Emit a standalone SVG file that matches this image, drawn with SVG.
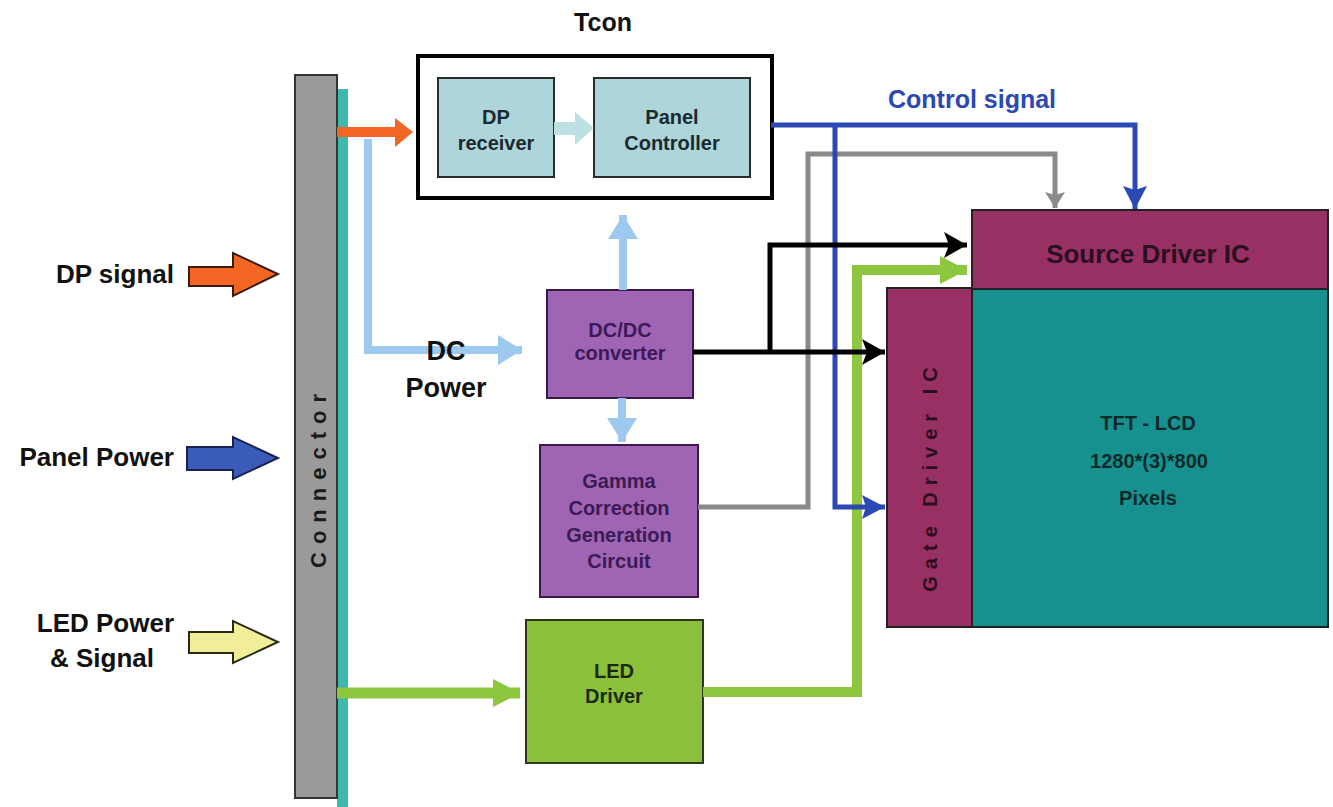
<svg xmlns="http://www.w3.org/2000/svg" width="1333" height="807" viewBox="0 0 1333 807">
<defs>
<style>
text{font-family:"Liberation Sans",Arial,sans-serif;font-weight:bold;}
.lbl{font-size:26px;fill:#111;}
.box{stroke:#2a2a2a;stroke-width:2;}
.tc{fill:#aed6da;}
.pu{fill:#a064b4;stroke:#3a1a4a;stroke-width:2;}
.pt{font-size:20px;fill:#3b1b55;text-anchor:middle;}
.it{font-size:20px;fill:#1a2a30;text-anchor:middle;}
.ln{fill:none;stroke-linejoin:miter;}
</style>
<marker id="ahBlack" markerUnits="userSpaceOnUse" markerWidth="26" markerHeight="28" refX="23" refY="13" orient="auto" viewBox="0 0 26 26">
<path d="M0,0 L23,13 L0,26 L5,13 Z" fill="#000"/>
</marker>
<marker id="ahBlue" markerUnits="userSpaceOnUse" markerWidth="26" markerHeight="26" refX="23" refY="12" orient="auto" viewBox="0 0 26 24">
<path d="M0,0 L23,12 L0,24 L4,12 Z" fill="#2b48b4"/>
</marker>
<marker id="ahGray" markerUnits="userSpaceOnUse" markerWidth="20" markerHeight="20" refX="16" refY="10" orient="auto" viewBox="0 0 20 20">
<path d="M0,0 L16,10 L0,20 L3,10 Z" fill="#8a8a8a"/>
</marker>
<marker id="ahGreen" markerUnits="userSpaceOnUse" markerWidth="28" markerHeight="30" refX="27" refY="14" orient="auto" viewBox="0 0 28 28">
<path d="M0,0 L27,14 L0,28 Z" fill="#8dc63f"/>
</marker>
<marker id="ahLB" markerUnits="userSpaceOnUse" markerWidth="26" markerHeight="32" refX="24" refY="15" orient="auto" viewBox="0 0 26 30">
<path d="M0,0 L24,15 L0,30 Z" fill="#9ec9ee"/>
</marker>
</defs>
<rect width="1333" height="807" fill="#fff"/>

<g id="inputs">
<polygon points="189,267 233,267 233,253 278,274 233,296 233,286 189,286" fill="#f26522" stroke="#3a1a0a" stroke-width="2"/>
<text class="lbl" x="174" y="283" text-anchor="end">DP signal</text>
<polygon points="187,447 233,447 233,437 278,458 233,479 233,470 187,470" fill="#3a5bb8" stroke="#1a2050" stroke-width="2"/>
<text class="lbl" x="174" y="466" text-anchor="end">Panel Power</text>
<polygon points="189,632 233,632 233,621 278,642 233,663 233,653 189,653" fill="#f0ee98" stroke="#2a2a10" stroke-width="2"/>
<text class="lbl" x="174" y="632" text-anchor="end">LED Power</text>
<text class="lbl" x="102" y="667" text-anchor="middle">&amp; Signal</text>
</g>

<g id="connector">
<rect x="337" y="89" width="11" height="718" fill="#3fb8b0"/>
<rect x="295" y="75" width="42" height="723" fill="#9a9a9a" stroke="#333" stroke-width="2"/>
<text transform="translate(326,477) rotate(-90)" font-size="22" fill="#1a1a1a" text-anchor="middle" letter-spacing="8">Connector</text>
</g>

<g id="tcon">
<text x="603" y="31" font-size="25" fill="#111" text-anchor="middle">Tcon</text>
<rect x="418" y="56" width="354" height="142" fill="#fff" stroke="#000" stroke-width="4"/>
</g>
<g id="dp-receiver">
<rect class="tc box" x="438" y="78" width="116" height="99"/>
<text class="it" x="496" y="124">DP</text>
<text class="it" x="496" y="150">receiver</text>
</g>
<g id="panel-controller">
<rect class="tc box" x="594" y="78" width="156" height="99"/>
<text class="it" x="672" y="124">Panel</text>
<text class="it" x="672" y="150">Controller</text>
</g>

<g id="dcdc">
<rect class="pu" x="547" y="290" width="146" height="108"/>
<text class="pt" x="620" y="337" font-size="19">DC/DC</text>
<text class="pt" x="620" y="360" font-size="19">converter</text>
</g>

<g id="gamma">
<rect class="pu" x="540" y="445" width="158" height="152"/>
<text class="pt" x="619" y="488">Gamma</text>
<text class="pt" x="619" y="515">Correction</text>
<text class="pt" x="619" y="542">Generation</text>
<text class="pt" x="619" y="568">Circuit</text>
</g>

<g id="led-driver">
<rect x="526" y="620" width="177" height="143" fill="#8cc03a" stroke="#2a3a1a" stroke-width="2"/>
<text x="614" y="678" font-size="20" fill="#1a2a10" text-anchor="middle">LED</text>
<text x="614" y="703" font-size="20" fill="#1a2a10" text-anchor="middle">Driver</text>
</g>

<g id="connectors">
<polygon points="554,122 575,122 575,112 594,128 575,145 575,135 554,135" fill="#bde0e2"/>
<polygon points="337,127 395,127 395,118 413,132 395,147 395,137 337,137" fill="#f26522"/>
<polyline class="ln" points="368,139 368,350 522,350" stroke="#9ec9ee" stroke-width="8" marker-end="url(#ahLB)"/>
<line x1="623" y1="290" x2="623" y2="215" stroke="#9ec9ee" stroke-width="8" marker-end="url(#ahLB)"/>
<line x1="622" y1="398" x2="622" y2="442" stroke="#9ec9ee" stroke-width="8" marker-end="url(#ahLB)"/>
<line x1="337" y1="693" x2="520" y2="693" stroke="#8dc63f" stroke-width="11" marker-end="url(#ahGreen)"/>
<polyline class="ln" points="703,692 857,692 857,270 967,270" stroke="#8dc63f" stroke-width="10" marker-end="url(#ahGreen)"/>
<polyline class="ln" points="698,507 808,507 808,154 1055,154 1055,208" stroke="#8a8a8a" stroke-width="5" marker-end="url(#ahGray)"/>
<polyline class="ln" points="771,125 1135,125 1135,209" stroke="#2b48b4" stroke-width="5" marker-end="url(#ahBlue)"/>
<polyline class="ln" points="835,125 835,507 885,507" stroke="#2b48b4" stroke-width="5" marker-end="url(#ahBlue)"/>
<line x1="693" y1="352" x2="885" y2="352" stroke="#000" stroke-width="5" marker-end="url(#ahBlack)"/>
<polyline class="ln" points="770,352 770,245 967,245" stroke="#000" stroke-width="5" marker-end="url(#ahBlack)"/>
</g>

<g id="labels">
<text x="888" y="108" font-size="25" fill="#2b48b4">Control signal</text>
<text x="446" y="360" font-size="27" fill="#111" text-anchor="middle">DC</text>
<text x="446" y="397" font-size="27" fill="#111" text-anchor="middle">Power</text>
</g>

<g id="source-driver">
<rect x="972" y="210" width="356" height="79" fill="#993063" stroke="#222" stroke-width="2"/>
<text x="1148" y="263" font-size="26" fill="#2a0f1f" text-anchor="middle">Source Driver IC</text>
</g>
<g id="gate-driver">
<rect x="887" y="288" width="85" height="339" fill="#993063" stroke="#222" stroke-width="2"/>
<text transform="translate(937,476) rotate(-90)" font-size="20" fill="#2a0f1f" text-anchor="middle" letter-spacing="7">Gate Driver IC</text>
</g>
<g id="tft-lcd">
<rect x="972" y="289" width="356" height="338" fill="#17918f" stroke="#222" stroke-width="2"/>
<text x="1148" y="430" font-size="20" fill="#0a2a2a" text-anchor="middle">TFT - LCD</text>
<text x="1149" y="468" font-size="20" fill="#0a2a2a" text-anchor="middle">1280*(3)*800</text>
<text x="1148" y="505" font-size="20" fill="#0a2a2a" text-anchor="middle">Pixels</text>
</g>
</svg>
